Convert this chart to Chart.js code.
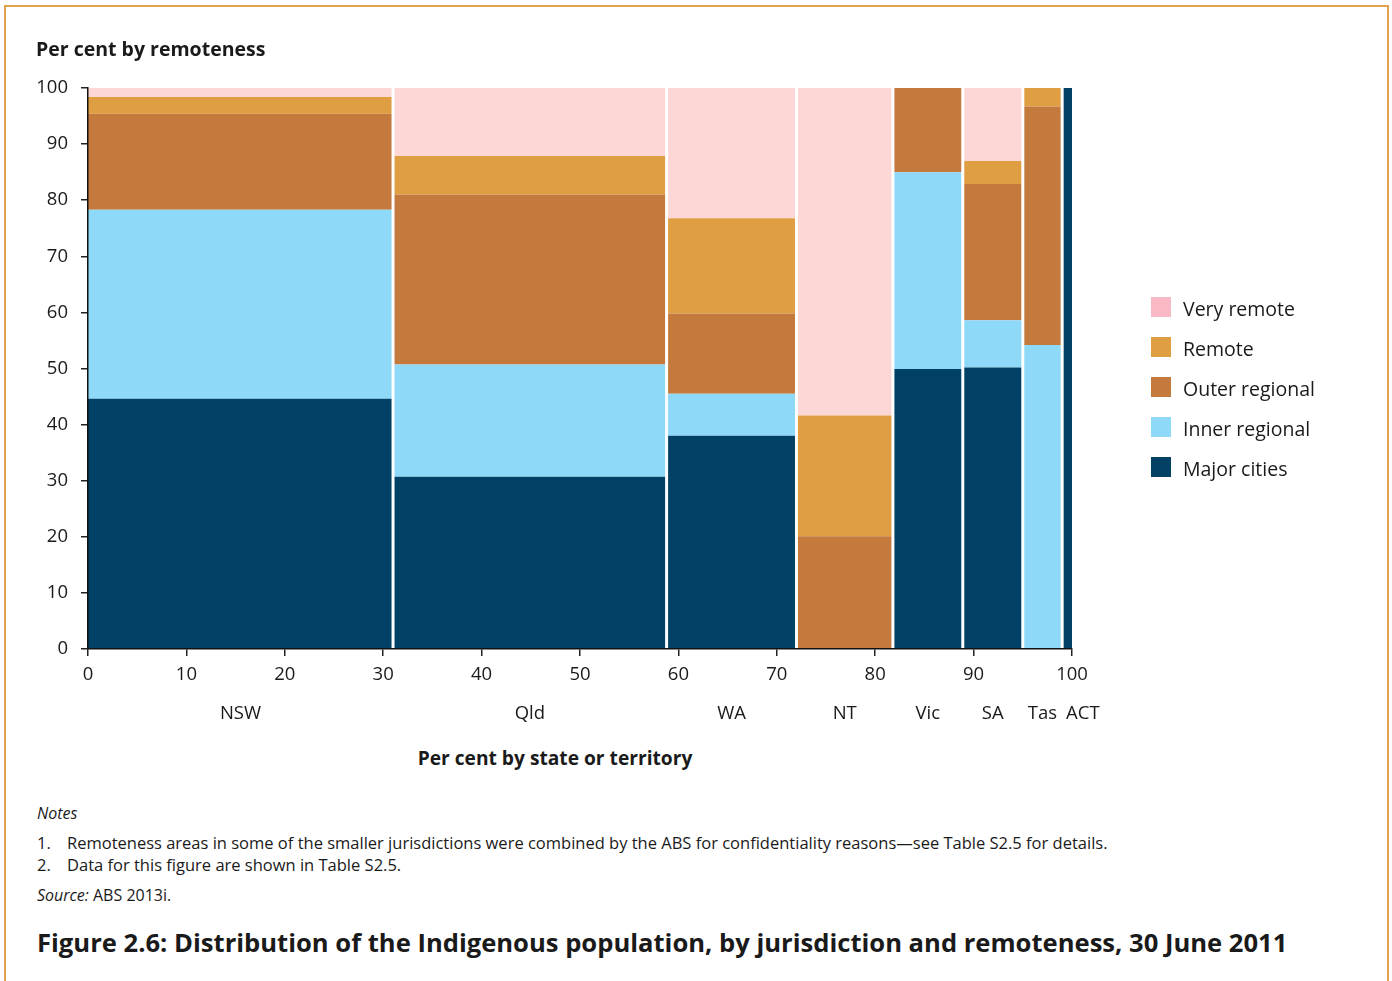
<!DOCTYPE html>
<html>
<head>
<meta charset="utf-8">
<script src="https://cdn.jsdelivr.net/npm/chart.js@4"></script>
<style>
  html, body { margin:0; padding:0; background:#fff; }
  body { width:1392px; height:981px; position:relative; overflow:hidden; font-family: "Open Sans", Lato, sans-serif; color:#1a1a1a; }
  #frame { position:absolute; left:4px; top:5px; width:1381px; height:1000px; border:2px solid #E3A24F; border-bottom:none; }
  #chartWrap { position:absolute; left:0; top:0; width:1392px; height:730px; }
  .t { position:absolute; white-space:nowrap; line-height:1.2; }
  #ytitle { left:36px; top:37px; font-weight:700; font-size:19.5px; }
  #xtitle { left:555px; top:746px; transform:translateX(-50%); font-weight:700; font-size:19.2px; }
  #legend { position:absolute; left:1151px; top:297px; }
  .li { position:relative; height:40px; }
  .sw { position:absolute; left:0; top:0; width:20px; height:20px; }
  .lt { position:absolute; left:32px; top:0px; font-size:19.5px; line-height:24px; white-space:nowrap; }
  #notes { left:37px; top:804px; font-size:16px; font-style:italic; }
  .note { font-size:16.5px; }
  .num { left:37px; }
  .ntxt { left:67px; }
  #src { left:37px; top:886px; font-size:16px; }
  #fig { left:37px; top:928px; font-weight:700; font-size:25.6px; }
</style>
</head>
<body>
<div id="frame"></div>
<div id="chartWrap"><canvas id="c" width="1392" height="730"></canvas></div>
<div class="t" id="ytitle">Per cent by remoteness</div>
<div class="t" id="xtitle">Per cent by state or territory</div>
<div id="legend"></div>
<div class="t" id="notes">Notes</div>
<div class="t note num" style="top:833px">1.</div>
<div class="t note ntxt" style="top:833px">Remoteness areas in some of the smaller jurisdictions were combined by the ABS for confidentiality reasons—see Table S2.5 for details.</div>
<div class="t note num" style="top:855px">2.</div>
<div class="t note ntxt" style="top:855px">Data for this figure are shown in Table S2.5.</div>
<div class="t" id="src"><i>Source:</i> ABS 2013i.</div>
<div class="t" id="fig">Figure 2.6: Distribution of the Indigenous population, by jurisdiction and remoteness, 30 June 2011</div>
<script>
// ---- data ----
const states = ['NSW', 'Qld', 'WA', 'NT', 'Vic', 'SA', 'Tas', 'ACT'];
const stateShare = [31.0, 27.8, 13.2, 9.8, 7.1, 6.1, 4.0, 1.0];   // per cent of Indigenous population
const categories = ['Major cities', 'Inner regional', 'Outer regional', 'Remote', 'Very remote'];
const majorCities   = [44.6, 30.7, 38.0, 0.0, 49.9, 50.2, 0.0, 100.0];
const innerRegional = [33.7, 20.0, 7.5, 0.0, 35.1, 8.4, 54.2, 0.0];
const outerRegional = [17.1, 30.3, 14.3, 20.1, 15.0, 24.3, 42.5, 0.0];
const remote        = [3.0, 6.9, 17.0, 21.5, 0.0, 4.1, 3.3, 0.0];
const veryRemote    = [1.6, 12.1, 23.2, 58.4, 0.0, 13.0, 0.0, 0.0];
const xTicks = [0, 10, 20, 30, 40, 50, 60, 70, 80, 90, 100];
const yTicks = [0, 10, 20, 30, 40, 50, 60, 70, 80, 90, 100];

// ---- styles ----
const fillColors = ['#004165', '#8ED8F8', '#C47A3C', '#E09E42', '#FDD7D6'];
const legendColors = ['#F8B8C4', '#E09E42', '#C47A3C', '#8ED8F8', '#004165'];
const FONT = '"Open Sans", Lato, sans-serif';
const TXT = '#1a1a1a';

const series = [majorCities, innerRegional, outerRegional, remote, veryRemote];
const cum = [];
let acc = 0;
stateShare.forEach(w => { cum.push(acc); acc += w; });

const datasets = [];
states.forEach((s, i) => {
  const x0 = cum[i], x1 = cum[i] + stateShare[i];
  let top = 0;
  series.forEach((vals, k) => {
    top += vals[i];
    datasets.push({
      label: categories[k] + ' ' + s,
      data: [{x: x0, y: top}, {x: x1, y: top}],
      fill: k === 0 ? 'origin' : '-1',
      backgroundColor: fillColors[k],
      borderWidth: 0,
      borderColor: 'rgba(0,0,0,0)',
      pointRadius: 0,
      order: 1
    });
  });
});
// white separators at state boundaries
const sepData = [];
for (let i = 1; i < states.length; i++) {
  sepData.push({x: cum[i], y: 0}, {x: cum[i], y: 100}, {x: cum[i], y: null});
}
datasets.push({
  label: 'sep', data: sepData, borderColor: '#ffffff', borderWidth: 3,
  fill: false, pointRadius: 0, spanGaps: false, order: 0
});

const stateLabels = {
  id: 'stateLabels',
  afterDraw(chart) {
    const ctx = chart.ctx, xs = chart.scales.x;
    ctx.save();
    ctx.font = '18.5px ' + FONT;
    ctx.fillStyle = TXT;
    ctx.textAlign = 'center';
    ctx.textBaseline = 'middle';
    const y = chart.chartArea.bottom + 65;
    let prevRight = -Infinity;
    states.forEach((s, i) => {
      const w = ctx.measureText(s).width;
      let cx = xs.getPixelForValue(cum[i] + stateShare[i] / 2);
      if (cx - w / 2 < prevRight + 9) cx = prevRight + 9 + w / 2;
      ctx.fillText(s, cx, y);
      prevRight = cx + w / 2;
    });
    ctx.restore();
  }
};

new Chart(document.getElementById('c'), {
  type: 'line',
  data: { datasets },
  options: {
    responsive: false,
    animation: false,
    layout: { padding: { left: 0, top: 88, right: 320, bottom: 31 } },
    plugins: { legend: { display: false }, tooltip: { enabled: false } },
    scales: {
      x: {
        type: 'linear', min: 0, max: 100,
        afterBuildTicks: s => { s.ticks = xTicks.map(v => ({value: v})); },
        afterFit: s => { s.height = 50; },
        ticks: { color: TXT, font: { family: FONT, size: 18.5 }, padding: 8, maxRotation: 0, autoSkip: false },
        grid: { drawOnChartArea: false, drawTicks: true, tickLength: 7, color: '#222', lineWidth: 1.5 },
        border: { display: true, color: '#111', width: 1.5, z: 1 }
      },
      y: {
        type: 'linear', min: 0, max: 100,
        afterBuildTicks: s => { s.ticks = yTicks.map(v => ({value: v})); },
        afterFit: s => { s.width = 88; },
        ticks: { color: TXT, font: { family: FONT, size: 18.5 }, padding: 13, autoSkip: false },
        grid: { drawOnChartArea: false, drawTicks: true, tickLength: 7, color: '#222', lineWidth: 1.5 },
        border: { display: true, color: '#111', width: 1.5, z: 1 }
      }
    }
  },
  plugins: [stateLabels]
});

// HTML legend
const lg = document.getElementById('legend');
['Very remote', 'Remote', 'Outer regional', 'Inner regional', 'Major cities'].forEach((name, i) => {
  const d = document.createElement('div');
  d.className = 'li';
  d.innerHTML = '<div class="sw" style="background:' + legendColors[i] + '"></div><div class="lt">' + name + '</div>';
  lg.appendChild(d);
});
</script>
</body>
</html>
